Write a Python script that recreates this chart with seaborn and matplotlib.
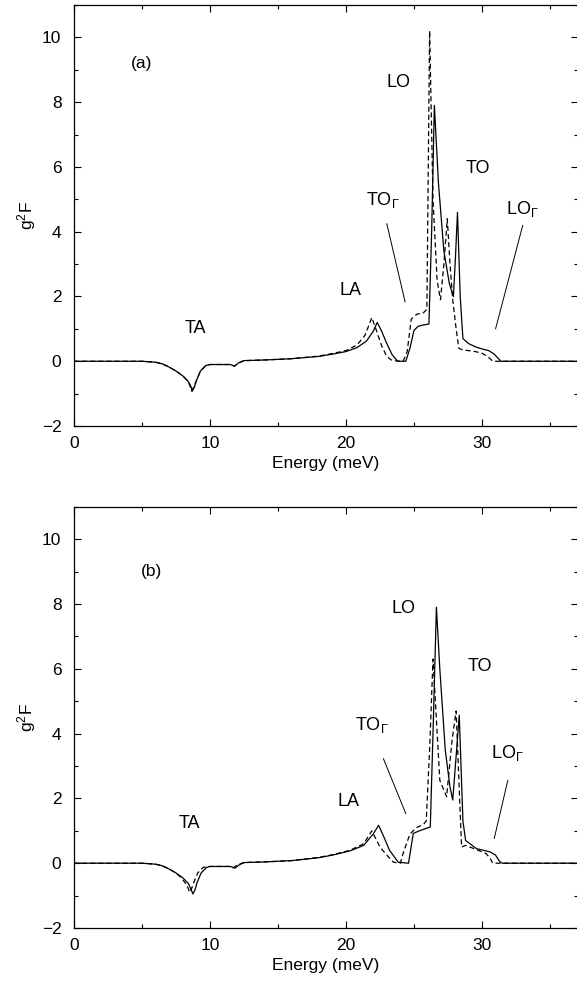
"""Eliashberg-like g2F spectra, two panels (a) and (b)"""
import matplotlib
matplotlib.use('Agg')
import matplotlib.pyplot as plt
from matplotlib.ticker import MultipleLocator
import seaborn as sns

# Panel (a): solid curve
energy_a_solid = [0, 5, 6, 6.5, 7, 7.5, 8, 8.4, 8.6, 8.7, 8.85, 9.0, 9.3, 9.7, 10.0,
                  11.0, 11.5, 11.8, 12.1, 12.5, 14, 16, 18, 19, 20, 20.8, 21.5, 22.0,
                  22.3, 22.6, 23.0, 23.4, 23.8, 24.4, 24.7, 25.0, 25.3, 25.7, 26.1,
                  26.3, 26.5, 26.8, 27.2, 27.6, 27.9, 28.05, 28.2, 28.4, 28.6, 29.0,
                  29.5, 30.0, 30.5, 30.9, 31.4, 37.5]
g2f_a_solid = [0, 0, -0.03, -0.08, -0.18, -0.3, -0.45, -0.62, -0.78, -0.92, -0.8, -0.6,
               -0.3, -0.13, -0.1, -0.1, -0.1, -0.15, -0.05, 0.02, 0.04, 0.08, 0.15, 0.22,
               0.3, 0.42, 0.62, 0.92, 1.2, 0.95, 0.55, 0.2, 0.0, 0.0, 0.4, 0.95, 1.08,
               1.12, 1.15, 4.0, 7.9, 5.5, 3.4, 2.4, 2.0, 3.2, 4.6, 2.0, 0.7, 0.55, 0.45,
               0.38, 0.33, 0.22, 0.0, 0.0]

# Panel (a): dashed curve
energy_a_dash = [0, 5, 6, 6.5, 7, 7.5, 8, 8.4, 8.55, 8.65, 8.8, 9.0, 9.3, 9.7, 10.0,
                 11.0, 11.5, 11.8, 12.1, 12.5, 14, 16, 18, 19, 20, 20.8, 21.4, 21.9,
                 22.2, 22.6, 23.0, 23.4, 24.2, 24.5, 24.8, 25.2, 25.7, 25.95, 26.15,
                 26.4, 26.7, 26.95, 27.2, 27.45, 27.65, 27.85, 28.1, 28.3, 28.6, 29.0,
                 29.5, 30.0, 30.4, 30.8, 37.5]
g2f_a_dash = [0, 0, -0.03, -0.08, -0.18, -0.3, -0.45, -0.62, -0.78, -0.92, -0.8, -0.6,
              -0.3, -0.13, -0.1, -0.1, -0.1, -0.15, -0.05, 0.02, 0.04, 0.08, 0.16, 0.24,
              0.33, 0.5, 0.8, 1.35, 1.0, 0.5, 0.15, 0.02, 0.0, 0.3, 1.3, 1.45, 1.5, 1.6,
              10.2, 5.0, 2.5, 1.9, 3.0, 4.4, 3.0, 1.9, 1.0, 0.4, 0.35, 0.33, 0.3, 0.25,
              0.15, 0.0, 0.0]

# Panel (b): solid curve
energy_b_solid = [0, 5, 6, 6.5, 7, 7.5, 8, 8.4, 8.6, 8.75, 8.9, 9.05, 9.35, 9.75, 10.0,
                  11.0, 11.5, 11.85, 12.15, 12.5, 14, 16, 18, 19, 20.3, 21.3, 22.0,
                  22.4, 22.8, 23.2, 23.85, 24.6, 24.95, 25.4, 26.2, 26.4, 26.65, 26.9,
                  27.3, 27.65, 27.85, 28.1, 28.33, 28.6, 28.8, 29.6, 30.6, 31.0, 31.3,
                  31.5, 37.5]
g2f_b_solid = [0, 0, -0.03, -0.08, -0.18, -0.3, -0.45, -0.62, -0.8, -0.95, -0.82, -0.6,
               -0.3, -0.13, -0.1, -0.1, -0.1, -0.15, -0.05, 0.02, 0.04, 0.08, 0.17, 0.25,
               0.38, 0.55, 0.9, 1.17, 0.8, 0.4, 0.03, 0.0, 0.92, 1.0, 1.12, 4.0, 7.9,
               6.0, 3.5, 2.35, 1.95, 3.3, 4.57, 1.3, 0.7, 0.45, 0.35, 0.25, 0.05, 0.0,
               0.0]

# Panel (b): dashed curve
energy_b_dash = [0, 5, 6, 6.5, 7, 7.5, 7.9, 8.2, 8.4, 8.5, 8.65, 8.8, 9.1, 9.5, 9.8,
                 11.0, 11.4, 11.7, 12.0, 12.5, 14, 16, 18, 19, 20.3, 21.3, 21.9, 22.5,
                 23.0, 23.5, 24.0, 24.2, 24.7, 25.2, 25.7, 25.9, 26.15, 26.4, 26.9,
                 27.4, 27.8, 28.1, 28.5, 28.8, 29.6, 30.3, 30.6, 30.8, 37.5]
g2f_b_dash = [0, 0, -0.03, -0.08, -0.18, -0.3, -0.45, -0.62, -0.78, -0.9, -0.78, -0.6,
              -0.3, -0.13, -0.1, -0.1, -0.1, -0.15, -0.05, 0.02, 0.04, 0.08, 0.18, 0.26,
              0.4, 0.6, 1.0, 0.5, 0.25, 0.03, 0.0, 0.3, 0.9, 1.1, 1.2, 1.3, 3.5, 6.3,
              2.56, 2.05, 3.8, 4.7, 0.5, 0.55, 0.42, 0.3, 0.15, 0.0, 0.0]

panel_tags = ['(a)', '(b)']
branch_names = ['TA', 'LA', 'TO$_\\Gamma$', 'LO', 'TO', 'LO$_\\Gamma$']
# label anchor points (meV, g2F) for each panel
label_x = [[8.9, 20.3, 22.7, 23.85, 29.7, 33.0], [8.5, 20.2, 21.9, 24.2, 29.85, 31.9]]
label_y = [[1.0, 2.2, 4.97, 8.62, 5.95, 4.7], [1.22, 1.89, 4.26, 7.86, 6.06, 3.4]]
tag_pos = [(4.95, 9.2), (5.7, 9.0)]
# pointer lines for TO_Gamma and LO_Gamma
pointer_to = [((23.0, 24.35), (4.25, 1.83)), ((22.75, 24.4), (3.23, 1.53))]
pointer_lo = [((33.0, 31.0), (4.2, 1.0)), ((31.9, 30.9), (2.56, 0.76))]

sns.set_style('ticks')
plt.rcParams['font.family'] = ['Liberation Sans', 'DejaVu Sans']
plt.rcParams['mathtext.default'] = 'regular'
# plain black for all text, spines and ticks
for key in ['text.color', 'axes.labelcolor', 'xtick.color', 'ytick.color',
            'axes.edgecolor']:
    plt.rcParams[key] = 'black'

fig = plt.figure(figsize=(5.77, 9.84), dpi=100)
ax_a = fig.add_axes([0.1282, 0.567, 0.8735, 0.428])
ax_b = fig.add_axes([0.1282, 0.0569, 0.8735, 0.428])

curves = [(energy_a_solid, g2f_a_solid, energy_a_dash, g2f_a_dash),
          (energy_b_solid, g2f_b_solid, energy_b_dash, g2f_b_dash)]

for i, ax in enumerate([ax_a, ax_b]):
    es, gs, ed, gd = curves[i]
    sns.lineplot(x=es, y=gs, ax=ax, color='black', lw=0.9)
    sns.lineplot(x=ed, y=gd, ax=ax, color='black', lw=0.9, linestyle=(0, (4, 2.5)))

    ax.set_xlim(0, 37.06)
    ax.set_ylim(-2, 11)
    ax.xaxis.set_major_locator(MultipleLocator(10))
    ax.xaxis.set_minor_locator(MultipleLocator(5))
    ax.yaxis.set_major_locator(MultipleLocator(2))
    ax.yaxis.set_minor_locator(MultipleLocator(1))
    ax.tick_params(which='both', direction='in', top=True, right=True,
                   labelsize=12.5, width=0.8)
    ax.tick_params(axis='x', pad=7)
    ax.tick_params(axis='y', pad=9)
    ax.tick_params(which='major', length=5)
    ax.tick_params(which='minor', length=3)
    for sp in ax.spines.values():
        sp.set_linewidth(0.9)
    ax.set_xlabel('Energy (meV)', fontsize=12.5, labelpad=4)
    ax.set_ylabel('g$^2$F', fontsize=12.5, labelpad=3)

    ax.text(tag_pos[i][0], tag_pos[i][1], panel_tags[i], fontsize=12.5,
            ha='center', va='center')
    for name, lx, ly in zip(branch_names, label_x[i], label_y[i]):
        ax.text(lx, ly, name, fontsize=13, ha='center', va='center')
    ax.plot(pointer_to[i][0], pointer_to[i][1], color='black', lw=0.7)
    ax.plot(pointer_lo[i][0], pointer_lo[i][1], color='black', lw=0.7)

fig.savefig('out.png', dpi=100)
